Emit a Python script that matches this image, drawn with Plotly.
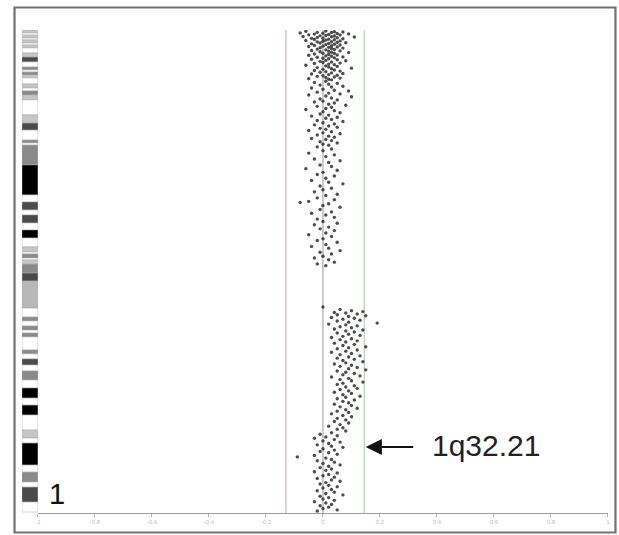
import plotly.graph_objects as go

# ---------------- data ----------------
# x axis: log ratio ticks
tick_vals = [-1.0, -0.8, -0.6, -0.4, -0.2, 0.0, 0.2, 0.4, 0.6, 0.8, 1.0]
tick_text = ["-1", "-0.8", "-0.6", "-0.4", "-0.2", "0", "0.2", "0.4", "0.6", "0.8", "1"]
loss_threshold = -0.13
gain_threshold = 0.145

chromosome_label = "1"
band_label = "1q32.21"
band_label_pos = 214.1      # Mb
band_label_ratio = 0.15

# ideogram bands (start Mb, end Mb, stain)
bands = [
    (0.0, 1.5, "g25"), (1.5, 2.6, "n"), (2.6, 4.1, "g25"), (4.1, 5.1, "n"),
    (5.1, 6.7, "g25"), (6.7, 7.7, "n"), (7.7, 9.2, "g25"), (9.2, 11.8, "n"),
    (11.8, 13.9, "g25"), (13.9, 16.4, "g75"), (16.4, 19.0, "n"), (19.0, 20.5, "g50"),
    (20.5, 21.6, "n"), (21.6, 23.1, "g50"), (23.1, 24.6, "g25"), (24.6, 27.7, "n"),
    (27.7, 29.8, "g25"), (29.8, 31.3, "n"), (31.3, 33.4, "g50"), (33.4, 35.9, "g25"),
    (35.9, 43.6, "n"), (43.6, 47.8, "g25"), (47.8, 51.4, "g75"), (51.4, 56.5, "n"),
    (56.5, 58.0, "g50"), (58.0, 59.1, "n"), (59.1, 69.3, "g50"), (69.3, 84.7, "g100"),
    (84.7, 88.3, "n"), (88.3, 92.4, "g75"), (92.4, 95.0, "n"), (95.0, 99.1, "g75"),
    (99.1, 102.7, "n"), (102.7, 106.8, "g100"), (106.8, 111.4, "n"), (111.4, 114.0, "g25"),
    (114.0, 115.0, "n"), (115.0, 117.1, "g50"), (117.1, 118.1, "n"), (118.1, 120.2, "g25"),
    (120.2, 124.8, "g50"), (124.8, 128.9, "g75"), (128.9, 142.8, "gvar"), (142.8, 147.4, "n"),
    (147.4, 149.4, "g50"), (149.4, 152.0, "n"), (152.0, 154.1, "g50"), (154.1, 155.6, "n"),
    (155.6, 157.6, "g50"), (157.6, 164.3, "n"), (164.3, 166.3, "g50"), (166.3, 168.9, "n"),
    (168.9, 172.0, "g75"), (172.0, 175.1, "n"), (175.1, 179.7, "g50"), (179.7, 183.8, "n"),
    (183.8, 189.0, "g100"), (189.0, 192.6, "n"), (192.6, 197.7, "g100"), (197.7, 205.4, "n"),
    (205.4, 209.5, "g25"), (209.5, 212.1, "n"), (212.1, 223.4, "g100"), (223.4, 227.0, "n"),
    (227.0, 232.1, "g50"), (232.1, 234.7, "n"), (234.7, 242.4, "g75"), (242.4, 247.5, "n"),
]

# probes: (position Mb, log ratio)
probes_p_distal = [
    (0.5, 0.01), (0.7, -0.06), (0.9, 0.04), (1.0, 0.07), (1.2, -0.02), (1.3, 0.03), (1.5, -0.08),
    (1.7, 0.00), (1.8, 0.05), (2.0, 0.09), (2.1, -0.03), (2.3, 0.02), (2.5, -0.05), (2.6, 0.06),
    (2.8, 0.01), (3.0, -0.01), (3.1, 0.04), (3.3, -0.07), (3.5, 0.03), (3.6, 0.11), (3.8, -0.02),
    (4.0, 0.05), (4.2, 0.00), (4.3, -0.04), (4.5, 0.07), (4.7, 0.02), (4.9, -0.03), (5.0, 0.04),
    (5.2, 0.01), (5.4, -0.06), (5.6, 0.06), (5.8, 0.00), (6.0, 0.03), (6.1, -0.02), (6.3, 0.05),
    (6.5, 0.08), (6.7, -0.01), (6.9, 0.02), (7.1, -0.04), (7.3, 0.04), (7.5, 0.01), (7.7, 0.06),
    (7.9, -0.03), (8.1, 0.03), (8.3, 0.00), (8.5, -0.05), (8.7, 0.05), (8.9, 0.02), (9.1, -0.01),
    (9.3, 0.07), (9.5, 0.03), (9.8, -0.02), (10.0, 0.04), (10.2, 0.01), (10.5, -0.04), (10.7, 0.06),
    (10.9, 0.02), (11.2, -0.01), (11.4, 0.03), (11.6, 0.09), (11.9, 0.00), (12.1, 0.04), (12.3, -0.03),
    (12.6, 0.02), (12.8, 0.05), (13.0, -0.05), (13.3, 0.01), (13.5, 0.03), (13.8, 0.07), (14.0, -0.02),
    (14.3, 0.04), (14.5, 0.00), (14.8, 0.02), (15.0, -0.04), (15.3, 0.05), (15.6, 0.01), (15.8, 0.08),
    (16.1, -0.01), (16.4, 0.03), (16.7, 0.00), (17.0, 0.06), (17.2, -0.03), (17.5, 0.02), (17.8, 0.04),
    (18.1, -0.06), (18.4, 0.01), (18.7, 0.05), (19.0, 0.02), (19.3, -0.02), (19.6, 0.10), (19.9, 0.03),
    (20.2, 0.00), (20.5, 0.04), (20.8, -0.03), (21.1, 0.06), (21.4, 0.01), (21.7, -0.01), (22.0, 0.03),
    (22.3, 0.07), (22.6, -0.04), (22.9, 0.02), (23.2, 0.05), (23.5, 0.00), (23.8, -0.02), (24.1, 0.04),
    (24.4, 0.01), (24.7, 0.06), (25.0, -0.05), (25.3, 0.02), (25.6, 0.03),
]
probes_p_mid = [
    (26.3, 0.01), (26.9, -0.03), (27.4, 0.05), (27.8, 0.02), (28.3, -0.01), (28.9, 0.07), (29.3, 0.03),
    (29.8, -0.04), (30.4, 0.00), (30.9, 0.04), (31.3, 0.09), (31.9, -0.02), (32.4, 0.02), (32.8, 0.06),
    (33.4, -0.05), (33.9, 0.01), (34.3, 0.10), (34.9, 0.03), (35.4, -0.01), (35.9, 0.05), (36.5, 0.00),
    (37.0, -0.03), (37.5, 0.04), (38.1, 0.02), (38.6, 0.08), (39.2, -0.02), (39.7, 0.03), (40.3, 0.01),
    (40.8, -0.06), (41.4, 0.04), (42.0, 0.00), (42.5, 0.06), (43.1, -0.01), (43.7, 0.02), (44.2, -0.04),
    (44.8, 0.05), (45.3, 0.01), (45.9, 0.03), (46.5, -0.02), (47.0, 0.07), (47.6, 0.00), (48.2, 0.04),
    (48.7, -0.03), (49.3, 0.02), (49.9, 0.05), (50.5, -0.01), (51.0, 0.01), (51.6, -0.05), (52.2, 0.03),
    (52.8, 0.00), (53.3, 0.06), (53.9, -0.02), (54.5, 0.02), (55.1, 0.04), (55.7, -0.04), (56.2, 0.01),
    (56.8, 0.03), (57.4, -0.01), (58.0, 0.05), (58.6, 0.00), (59.2, 0.02),
]
probes_p_proximal = [
    (60.0, -0.02), (61.1, 0.03), (62.0, 0.00), (63.2, -0.05), (64.1, 0.04), (65.0, 0.01), (66.2, -0.03),
    (67.1, 0.06), (68.0, 0.02), (69.3, -0.01), (70.1, 0.03), (71.2, -0.06), (72.0, 0.05), (73.1, 0.00),
    (74.2, -0.02), (75.0, 0.04), (76.1, 0.01), (77.3, -0.04), (78.2, 0.02), (79.0, 0.07), (80.1, -0.01),
    (81.2, 0.03), (82.0, 0.00), (83.1, -0.03), (84.3, 0.05), (85.0, 0.01), (86.2, -0.02), (87.1, 0.04),
    (88.0, -0.05), (88.6, -0.08), (89.2, 0.02), (90.1, 0.00), (91.0, 0.06), (92.2, -0.01), (93.4, 0.03),
    (94.1, -0.04), (95.0, 0.01), (96.2, 0.04), (97.1, -0.02), (98.3, 0.00), (99.2, 0.05), (100.0, -0.03),
    (101.2, 0.02), (102.1, -0.01), (103.0, 0.04), (104.2, 0.01), (105.1, -0.05), (106.0, 0.03),
    (107.2, 0.00), (108.1, -0.02), (109.0, 0.05), (110.2, 0.01), (111.1, -0.04), (112.0, 0.02),
    (113.3, 0.06), (114.1, -0.01), (115.0, 0.03), (116.2, 0.00), (117.1, -0.03), (118.0, 0.02),
    (119.2, 0.04), (120.1, -0.02), (121.0, 0.01),
]
probes_q_gain = [
    (142.2, 0.00), (143.5, 0.06), (144.1, 0.10), (144.6, 0.14), (145.0, 0.04), (145.3, 0.08), (145.8, 0.12),
    (146.2, 0.05), (146.7, 0.15), (147.1, 0.09), (147.6, 0.03), (148.0, 0.11), (148.5, 0.07), (149.0, 0.13),
    (149.4, 0.05), (150.0, 0.09), (150.5, 0.19), (151.0, 0.02), (151.4, 0.08), (151.9, 0.12), (152.4, 0.06),
    (152.9, 0.10), (153.5, 0.04), (154.0, 0.14), (154.5, 0.08), (155.1, 0.11), (155.6, 0.05), (156.2, 0.09),
    (156.8, 0.13), (157.3, 0.07), (157.9, 0.03), (158.5, 0.10), (159.0, 0.06), (159.6, 0.12), (160.2, 0.08),
    (160.8, 0.04), (161.4, 0.11), (162.0, 0.07), (162.6, 0.15), (163.1, 0.09), (163.7, 0.05), (164.3, 0.12),
    (164.9, 0.08), (165.5, 0.03), (166.1, 0.10), (166.7, 0.06), (167.3, 0.13), (167.9, 0.09), (168.5, 0.05),
    (169.1, 0.11), (169.7, 0.07), (170.3, 0.14), (170.9, 0.08), (171.5, 0.04), (172.1, 0.10), (172.7, 0.06),
    (173.3, 0.12), (173.9, 0.09), (174.5, 0.15), (175.1, 0.05), (175.7, 0.08), (176.4, 0.11), (177.0, 0.07),
    (177.6, 0.13), (178.2, 0.03), (178.9, 0.09), (179.5, 0.06), (180.1, 0.10), (180.8, 0.14), (181.4, 0.07),
    (182.0, 0.05), (182.7, 0.11), (183.3, 0.08), (184.0, 0.12), (184.6, 0.06), (185.3, 0.09), (186.0, 0.04),
    (186.6, 0.10), (187.3, 0.07), (188.0, 0.13), (188.6, 0.08), (189.3, 0.05), (190.0, 0.11), (190.7, 0.07),
    (191.4, 0.09), (192.1, 0.04), (192.8, 0.10), (193.5, 0.06), (194.2, 0.12), (195.0, 0.08), (195.7, 0.05),
    (196.4, 0.09), (197.1, 0.03), (197.9, 0.07), (198.6, 0.10), (199.4, 0.05), (200.2, 0.08), (201.0, 0.04),
    (201.8, 0.09), (202.6, 0.06), (203.4, 0.02), (204.2, 0.07), (205.0, 0.05), (205.9, 0.08),
]
probes_q_distal = [
    (206.8, 0.03), (207.6, -0.01), (208.3, 0.05), (209.0, 0.01), (209.6, -0.03), (210.3, 0.04), (211.0, 0.00),
    (211.6, 0.06), (212.3, 0.02), (213.0, -0.02), (213.7, 0.03), (214.3, 0.07), (215.0, 0.00), (215.7, 0.04),
    (216.4, -0.01), (217.1, 0.02), (217.8, 0.05), (218.5, -0.03), (219.2, -0.09), (219.8, 0.01), (220.5, 0.03),
    (221.2, -0.02), (221.9, 0.04), (222.6, 0.00), (223.3, 0.06), (224.0, 0.02), (224.7, -0.01), (225.4, 0.03),
    (226.1, 0.01), (226.8, -0.03), (227.5, 0.05), (228.2, 0.02), (228.9, 0.00), (229.6, 0.04), (230.3, -0.02),
    (231.0, 0.03), (231.7, 0.06), (232.4, 0.01), (233.1, -0.01), (233.8, 0.02), (234.5, 0.05), (235.2, 0.00),
    (235.9, 0.03), (236.6, -0.02), (237.3, 0.04), (238.0, 0.01), (238.7, 0.07), (239.4, -0.01), (240.1, 0.02),
    (240.8, 0.00), (241.5, 0.04), (242.2, -0.03), (242.9, 0.01), (243.6, 0.03), (244.3, -0.01), (245.0, 0.02),
    (245.7, 0.00), (246.4, 0.05), (247.0, -0.02),
]

# ---------------- figure ----------------
stain_colors = {"n": "#ffffff", "g25": "#c6c6c6", "g50": "#8a8a8a", "g75": "#4a4a4a",
                "g100": "#000000", "gvar": "#b8b8b8"}

W, H = 619, 535
ML, MR, MT, MB = 20, 9, 30, 22
plot_w = W - ML - MR
plot_h = H - MT - MB


def px_x(p):
    # window pixel -> paper fraction
    return (p - ML) / plot_w


def px_y(p):
    return (H - MB - p) / plot_h


all_probes = probes_p_distal + probes_p_mid + probes_p_proximal + probes_q_gain + probes_q_distal
pos = [p for p, r in all_probes]
ratio = [r for p, r in all_probes]

fig = go.Figure()

fig.add_trace(go.Bar(
    x=[0] * len(bands),
    y=[e - s for s, e, c in bands],
    base=[s for s, e, c in bands],
    width=1,
    marker=dict(color=[stain_colors[c] for s, e, c in bands],
                line=dict(color="#a8a8a8", width=0.5)),
    xaxis="x2", yaxis="y", showlegend=False, hoverinfo="skip",
))

fig.add_trace(go.Scatter(
    x=ratio, y=pos, mode="markers",
    marker=dict(size=3.4, color="#2e2e2e", opacity=0.85, line=dict(width=0)),
    xaxis="x", yaxis="y", showlegend=False,
))

shapes = [
    dict(type="line", xref="x", yref="paper", x0=0, x1=0, y0=0, y1=1,
         line=dict(color="#9a9a9a", width=1), layer="below"),
    dict(type="line", xref="x", yref="paper", x0=loss_threshold, x1=loss_threshold, y0=0, y1=1,
         line=dict(color="#e2a9b2", width=1.2), layer="below"),
    dict(type="line", xref="x", yref="paper", x0=gain_threshold, x1=gain_threshold, y0=0, y1=1,
         line=dict(color="#a9dcae", width=1.2), layer="below"),
    dict(type="rect", xref="paper", yref="paper",
         x0=px_x(14.5), x1=px_x(617.5), y0=px_y(532.5), y1=px_y(7.5),
         line=dict(color="#727272", width=2.2)),
]

annotations = [
    dict(xref="paper", yref="paper", x=px_x(57), y=px_y(494), text=chromosome_label,
         showarrow=False, xanchor="center", yanchor="middle",
         font=dict(family="Liberation Sans, Arial", size=29, color="#111111")),
    dict(xref="paper", yref="paper", x=px_x(488), y=px_y(445), text=band_label,
         showarrow=False, xanchor="center", yanchor="middle",
         font=dict(family="Liberation Sans, Arial", size=30, color="#222222")),
    dict(xref="x", yref="y", x=band_label_ratio, y=band_label_pos, text="",
         showarrow=True, axref="pixel", ayref="pixel", ax=49, ay=0,
         arrowhead=2, arrowsize=1.7, arrowwidth=1.9, arrowcolor="#111111", standoff=0),
]

fig.update_layout(
    width=W, height=H,
    margin=dict(l=ML, r=MR, t=MT, b=MB),
    paper_bgcolor="white", plot_bgcolor="white",
    showlegend=False,
    xaxis=dict(domain=[px_x(38), 1], range=[-1, 1], anchor="y",
               tickvals=tick_vals, ticktext=tick_text,
               ticks="outside", ticklen=3, tickcolor="#b0b0b0",
               tickfont=dict(size=6, color="#bdbdbd", family="Liberation Sans"),
               showline=True, linecolor="#a0a0a0", linewidth=1,
               showgrid=False, zeroline=False),
    xaxis2=dict(domain=[px_x(22), px_x(38)], range=[-0.5, 0.5], anchor="y",
                visible=False),
    yaxis=dict(range=[248, 0], visible=False, showgrid=False, zeroline=False),
    shapes=shapes, annotations=annotations,
)

# remove the default 8px page margin so the 619x535 figure fills the window exactly
fig.write_html(
    "out.html",
    config={"displayModeBar": False},
    post_script="document.body.style.margin='0';document.body.style.overflow='hidden';",
)
